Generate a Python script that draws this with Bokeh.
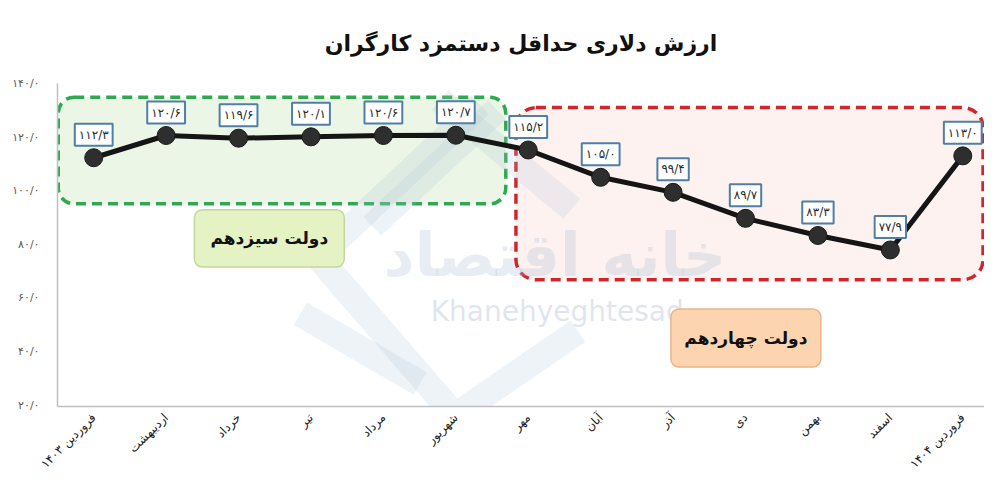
from bokeh.plotting import figure
from bokeh.models import (Range1d, FixedTicker, BoxAnnotation,
                          ColumnDataSource, Label)
from bokeh.core.properties import value
from bokeh.embed import file_html
from bokeh.resources import INLINE

# ---------------- data ----------------
title_text = "ارزش دلاری حداقل دستمزد کارگران"
months = ["فروردین ۱۴۰۳", "اردیبهشت", "خرداد", "تیر", "مرداد", "شهریور",
          "مهر", "آبان", "آذر", "دی", "بهمن", "اسفند", "فروردین ۱۴۰۴"]
wage_usd = [112.3, 120.6, 119.6, 120.1, 120.6, 120.7,
            115.2, 105.0, 99.4, 89.7, 83.3, 77.9, 113.0]
y_ticks = [20, 40, 60, 80, 100, 120, 140]
gov13_text = "دولت سیزدهم"
gov14_text = "دولت چهاردهم"
watermark_fa = "خانه اقتصاد"
watermark_en = "Khanehyeghtesad"

FA_DIGITS = str.maketrans("0123456789.", "۰۱۲۳۴۵۶۷۸۹/")


def fa(v):
    return f"{v:.1f}".translate(FA_DIGITS)


FONT = "DejaVu Sans"

x_idx = list(range(len(months)))
src = ColumnDataSource(dict(x=x_idx, y=wage_usd, lab=[fa(v) for v in wage_usd]))

p = figure(width=984, height=478, output_backend="svg", toolbar_location=None,
           x_range=Range1d(-0.5, 12.30), y_range=Range1d(19.5, 140),
           min_border_left=57, min_border_right=0, min_border_top=83,
           min_border_bottom=59)
p.outline_line_color = None
p.xgrid.visible = False
p.ygrid.visible = False
p.background_fill_color = "white"

# title
p.title.text = title_text
p.title.align = "center"
p.title.text_font = FONT
p.title.text_font_size = "22px"
p.title.text_font_style = "bold"
p.title.text_color = "#111111"
p.title.standoff = 55

# axes
p.yaxis.ticker = FixedTicker(ticks=y_ticks)
p.yaxis.major_label_overrides = {t: fa(t) for t in y_ticks}
p.xaxis.ticker = FixedTicker(ticks=x_idx)
p.xaxis.major_label_overrides = {i: m for i, m in enumerate(months)}
p.xaxis.major_label_orientation = 0.785
for ax in (p.xaxis, p.yaxis):
    ax.axis_line_color = "#bfbfbf"
    ax.axis_line_width = 1.5
    ax.major_tick_line_color = None
    ax.minor_tick_line_color = None
    ax.major_label_text_font = FONT
p.yaxis.major_label_text_font_size = "11px"
p.yaxis.major_label_standoff = 12
p.yaxis.major_label_text_color = "#595959"
p.xaxis.major_label_text_font_size = "12px"
p.xaxis.major_label_text_color = "#222222"
p.xaxis.major_label_standoff = 3

# group boxes
p.add_layout(BoxAnnotation(left=-0.49, right=5.69, top=134.9, bottom=95.1,
                           fill_color="#e9f5e3", fill_alpha=0.9,
                           line_color="#2fa84f", line_alpha=1.0, line_width=3.5,
                           line_dash="10 6", border_radius=16, level="underlay"))
p.add_layout(BoxAnnotation(left=5.83, right=12.28, top=131.0, bottom=66.8,
                           fill_color="#fdf1ee", fill_alpha=0.9,
                           line_color="#d0262e", line_alpha=1.0, line_width=3.5,
                           line_dash="10 6", border_radius=20, level="underlay"))


# watermark logo (decorative bands, given in approximate pixel positions)
def px(sx, sy):
    return (sx - 57) / 72.5 - 0.5, 140 - (sy - 83) / 2.76


logo_strokes = [
    [(480, 105), (318, 262), (455, 425), (578, 338)],
    [(372, 230), (497, 110)],
    [(440, 100), (572, 212)],
    [(300, 320), (420, 392)],
]
lx, ly = [], []
for s in logo_strokes:
    pts = [px(a, b) for a, b in s]
    lx.append([q[0] for q in pts])
    ly.append([q[1] for q in pts])
p.multi_line(lx, ly, line_color="#a9c1d9", line_alpha=0.2, line_width=26,
             line_join="miter", line_cap="butt")

p.add_layout(Label(x=6.37, y=76, text=watermark_fa, text_font=FONT,
                   text_font_size="60px", text_font_style="bold",
                   text_color="#9fb6cc", text_alpha=0.25,
                   text_align="center", text_baseline="middle", level="underlay"))
p.add_layout(Label(x=6.4, y=55, text=watermark_en, text_font=FONT,
                   text_font_size="28px", text_color="#9fb6cc", text_alpha=0.35,
                   text_align="center", text_baseline="middle", level="underlay"))

# government label boxes
p.add_layout(BoxAnnotation(left=1.39, right=3.46, top=92.9, bottom=71.5,
                           fill_color="#e4f2c4", fill_alpha=1.0,
                           line_color="#c3d69b", line_alpha=1.0, line_width=1.5,
                           border_radius=8))
p.add_layout(Label(x=2.425, y=82.2, text=gov13_text, text_font=FONT,
                   text_font_size="17px", text_font_style="bold",
                   text_color="#111111", text_align="center", text_baseline="middle"))
p.add_layout(BoxAnnotation(left=7.97, right=10.04, top=55.9, bottom=34.2,
                           fill_color="#fcd5b0", fill_alpha=1.0,
                           line_color="#e8b58a", line_alpha=1.0, line_width=1.5,
                           border_radius=8))
p.add_layout(Label(x=9.005, y=45.0, text=gov14_text, text_font=FONT,
                   text_font_size="17px", text_font_style="bold",
                   text_color="#111111", text_align="center", text_baseline="middle"))

# line and markers
p.line("x", "y", source=src, line_color="#151515", line_width=5)
p.scatter("x", "y", source=src, size=18, fill_color="#2e2e2e",
          line_color="#1a1a1a", line_width=1)

# value labels
p.text("x", "y", text="lab", source=src, y_offset=-23,
       text_align="center", text_baseline="middle",
       text_font=value(FONT), text_font_size="12px",
       text_color="#2a2a2a", background_fill_color="white",
       border_line_color="#4f7fa5", border_line_width=2, padding=4)

open("out.html", "w").write(file_html(p, INLINE))
